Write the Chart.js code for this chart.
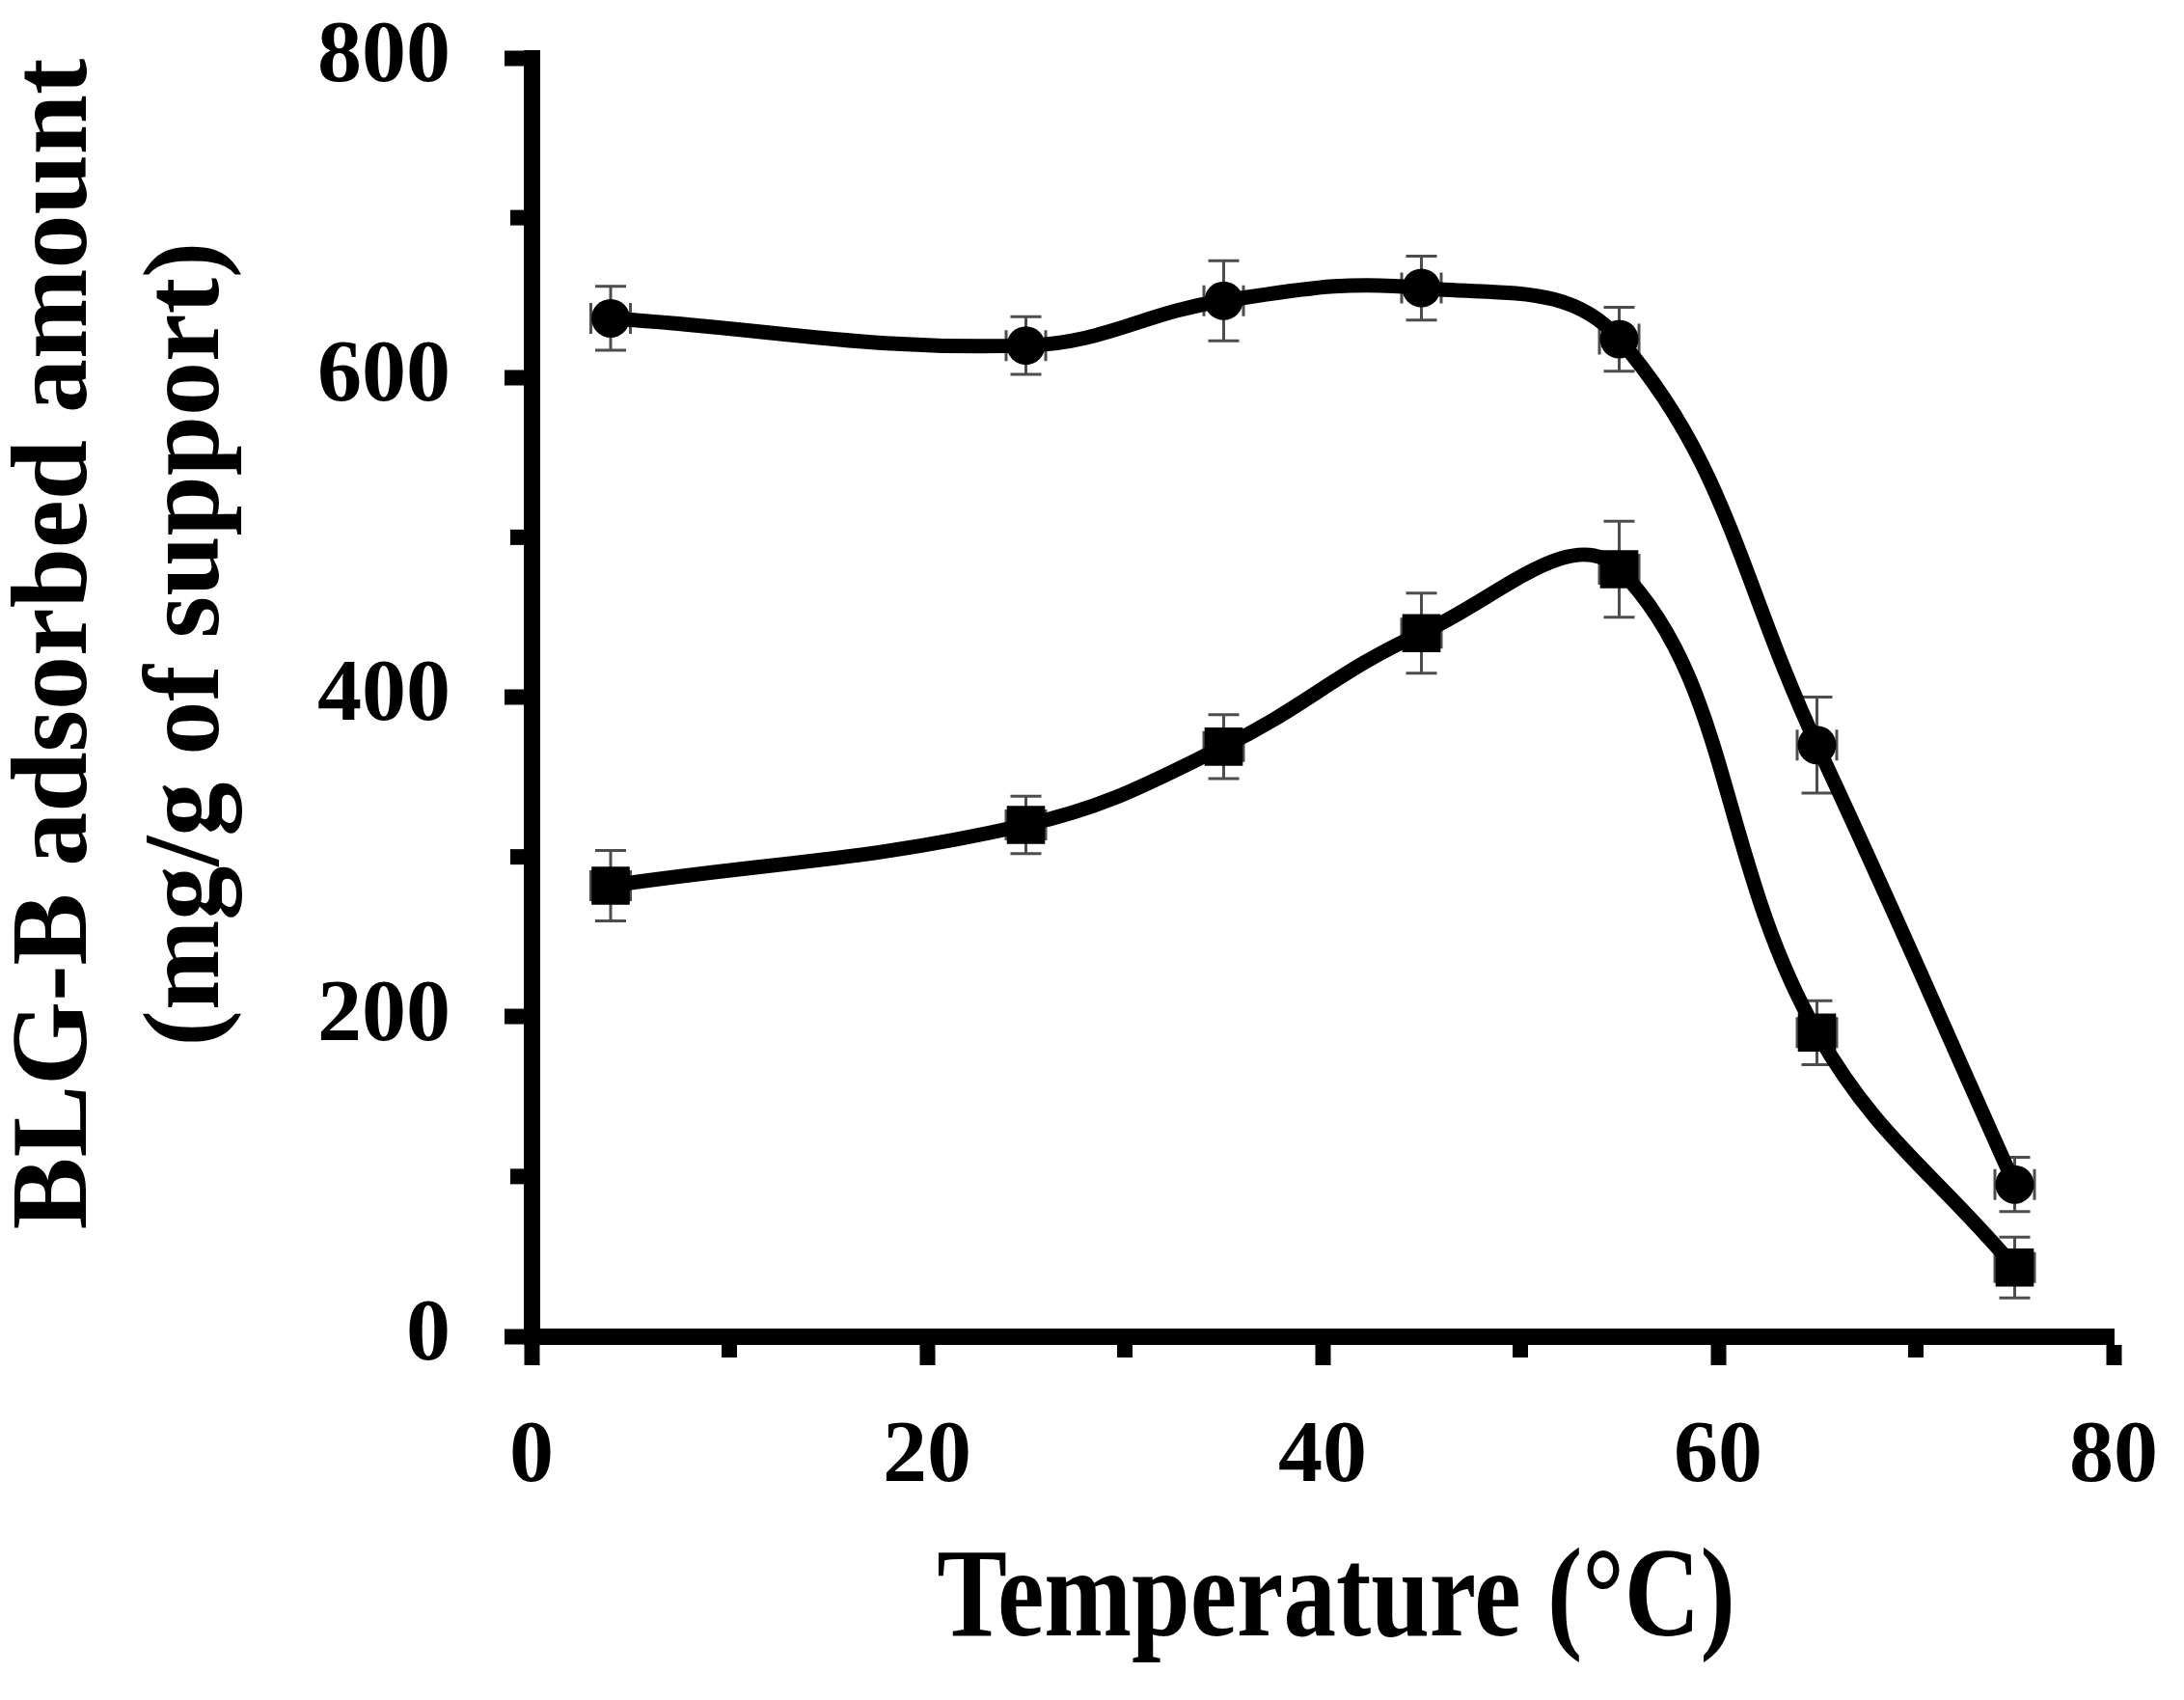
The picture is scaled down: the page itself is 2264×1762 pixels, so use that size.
<!DOCTYPE html>
<html>
<head>
<meta charset="utf-8">
<script src="https://cdn.jsdelivr.net/npm/chart.js@4.4.0/dist/chart.umd.min.js"></script>
<style>
  html, body { margin: 0; padding: 0; background: #ffffff; }
  #wrap { width: 2264px; height: 1762px; }
</style>
</head>
<body>
<div id="wrap"><canvas id="c" width="2264" height="1762"></canvas></div>
<script>
// ---- data ----
const temperatures = [4, 25, 35, 45, 55, 65, 75];
const circleValues = [637, 620, 648, 656, 624, 370, 95];
const circleErrors = [20, 18, 25, 20, 20, 30, 17];
const squareValues = [282, 320, 369, 440, 480, 190, 43];
const squareErrors = [22, 18, 20, 25, 30, 20, 19];
const xErrors = [1, 1, 1, 1, 1, 1, 1];
const xTickLabels = ['0', '20', '40', '60', '80'];
const yTickLabels = ['0', '200', '400', '600', '800'];
const xTitle = 'Temperature (°C)';
const yTitle = ['BLG-B adsorbed amount', '(mg/g of support)'];

const FONT = "'Liberation Serif', 'Times New Roman', serif";
Chart.defaults.font.family = FONT;
Chart.defaults.font.weight = 'bold';
Chart.defaults.color = '#000';

const AXIS_W = 17;
const TICK_W = 16;

function toPoints(values) {
  return temperatures.map((t, i) => ({ x: t, y: values[i] }));
}

const errorBarPlugin = {
  id: 'errorBars',
  beforeDatasetsDraw(chart) {
    const ctx = chart.ctx;
    const xs = chart.scales.x, ys = chart.scales.y;
    const sets = [[circleValues, circleErrors], [squareValues, squareErrors]];
    const cap = 16;
    ctx.save();
    ctx.strokeStyle = '#4d4d4d';
    ctx.lineWidth = 3;
    ctx.lineCap = 'butt';
    sets.forEach(([vals, errs]) => {
      temperatures.forEach((t, i) => {
        const px = xs.getPixelForValue(t);
        const py = ys.getPixelForValue(vals[i]);
        const top = ys.getPixelForValue(vals[i] + errs[i]);
        const bot = ys.getPixelForValue(vals[i] - errs[i]);
        const lx = xs.getPixelForValue(t - xErrors[i]);
        const rx = xs.getPixelForValue(t + xErrors[i]);
        ctx.beginPath();
        ctx.moveTo(px, top); ctx.lineTo(px, bot);
        ctx.moveTo(px - cap, top); ctx.lineTo(px + cap, top);
        ctx.moveTo(px - cap, bot); ctx.lineTo(px + cap, bot);
        ctx.moveTo(lx, py); ctx.lineTo(rx, py);
        ctx.moveTo(lx, py - cap); ctx.lineTo(lx, py + cap);
        ctx.moveTo(rx, py - cap); ctx.lineTo(rx, py + cap);
        ctx.stroke();
      });
    });
    ctx.restore();
  }
};

const minorTickPlugin = {
  id: 'minorTicks',
  afterDraw(chart) {
    const ctx = chart.ctx;
    const xs = chart.scales.x, ys = chart.scales.y;
    const area = chart.chartArea;
    const minorLen = 22;
    ctx.save();
    ctx.fillStyle = '#000';
    ys.ticks.forEach(t => {
      if (!yTickLabels.includes(String(t.value))) {
        const py = ys.getPixelForValue(t.value);
        ctx.fillRect(area.left - minorLen, py - TICK_W / 2, minorLen, TICK_W);
      }
    });
    xs.ticks.forEach(t => {
      if (!xTickLabels.includes(String(t.value))) {
        const px = xs.getPixelForValue(t.value);
        ctx.fillRect(px - TICK_W / 2, area.bottom, TICK_W, minorLen);
      }
    });
    ctx.restore();
  }
};

function patchTitle(scale, dx, dy, sy) {
  if (scale._titlePatched) return;
  scale._titlePatched = true;
  const orig = scale.drawTitle;
  scale.drawTitle = function () {
    const c = this.ctx;
    c.save();
    c.translate(dx, dy);
    if (sy !== 1) {
      const f = Chart.helpers.toFont(this.options.title.font);
      const pad = Chart.helpers.toPadding(this.options.title.padding);
      const cy = this.bottom - (f.lineHeight / 2 + pad.bottom);
      c.translate(0, cy);
      c.scale(1, sy);
      c.translate(0, -cy);
    }
    orig.call(this);
    c.restore();
  };
}

function clearScalePadding(s) {
  s.paddingTop = 0; s.paddingBottom = 0; s.paddingLeft = 0; s.paddingRight = 0;
}

const majorTickColor = (labels) => (ctx) =>
  (ctx.tick && labels.includes(String(ctx.tick.value))) ? '#000' : 'rgba(0,0,0,0)';

new Chart(document.getElementById('c'), {
  type: 'scatter',
  data: {
    datasets: [
      {
        label: 'circles',
        data: toPoints(circleValues),
        showLine: true,
        borderColor: '#000',
        borderWidth: 15,
        tension: 0.4,
        pointStyle: 'circle',
        pointRadius: 20,
        pointBackgroundColor: '#000',
        pointBorderColor: '#000',
        pointBorderWidth: 0,
        fill: false
      },
      {
        label: 'squares',
        data: toPoints(squareValues),
        showLine: true,
        borderColor: '#000',
        borderWidth: 15,
        tension: 0.4,
        pointStyle: 'rect',
        pointRadius: 28,
        pointBackgroundColor: '#000',
        pointBorderColor: '#000',
        pointBorderWidth: 0,
        fill: false
      }
    ]
  },
  options: {
    responsive: false,
    animation: false,
    devicePixelRatio: 1,
    events: [],
    layout: { padding: { left: 0, right: 73, top: 60, bottom: 0 } },
    plugins: { legend: { display: false }, tooltip: { enabled: false } },
    scales: {
      x: {
        type: 'linear',
        min: 0, max: 80,
        ticks: {
          stepSize: 10,
          autoSkip: false,
          maxRotation: 0,
          padding: 41,
          font: { size: 92, weight: 'bold' },
          color: '#000',
          callback: (v) => xTickLabels.includes(String(v)) ? String(v) : ''
        },
        grid: {
          drawOnChartArea: false,
          drawTicks: true,
          tickLength: 30,
          tickWidth: TICK_W,
          tickColor: majorTickColor(xTickLabels)
        },
        border: { display: true, color: '#000', width: AXIS_W },
        title: {
          display: true,
          text: xTitle,
          color: '#000',
          font: { size: 109, weight: 'bold', lineHeight: 1.2 },
          padding: { top: 0, bottom: 35 }
        },
        afterFit: (s) => { s.height = 377; clearScalePadding(s); },
        afterUpdate: (s) => patchTitle(s, 14, 0, 1.2)
      },
      y: {
        min: 0, max: 800,
        ticks: {
          stepSize: 100,
          autoSkip: false,
          padding: 56,
          font: { size: 92, weight: 'bold' },
          color: '#000',
          callback: (v) => yTickLabels.includes(String(v)) ? String(v) : ''
        },
        grid: {
          drawOnChartArea: false,
          drawTicks: true,
          tickLength: 28,
          tickWidth: TICK_W,
          tickColor: majorTickColor(yTickLabels)
        },
        border: { display: true, color: '#000', width: AXIS_W },
        title: {
          display: true,
          text: yTitle,
          color: '#000',
          font: { size: 112, weight: 'bold', lineHeight: 1.22 },
          padding: { top: -8, bottom: 0 }
        },
        afterFit: (s) => { s.width = 551; clearScalePadding(s); },
        afterUpdate: (s) => patchTitle(s, 0, -55, 1)
      }
    }
  },
  plugins: [errorBarPlugin, minorTickPlugin]
});
</script>
</body>
</html>
